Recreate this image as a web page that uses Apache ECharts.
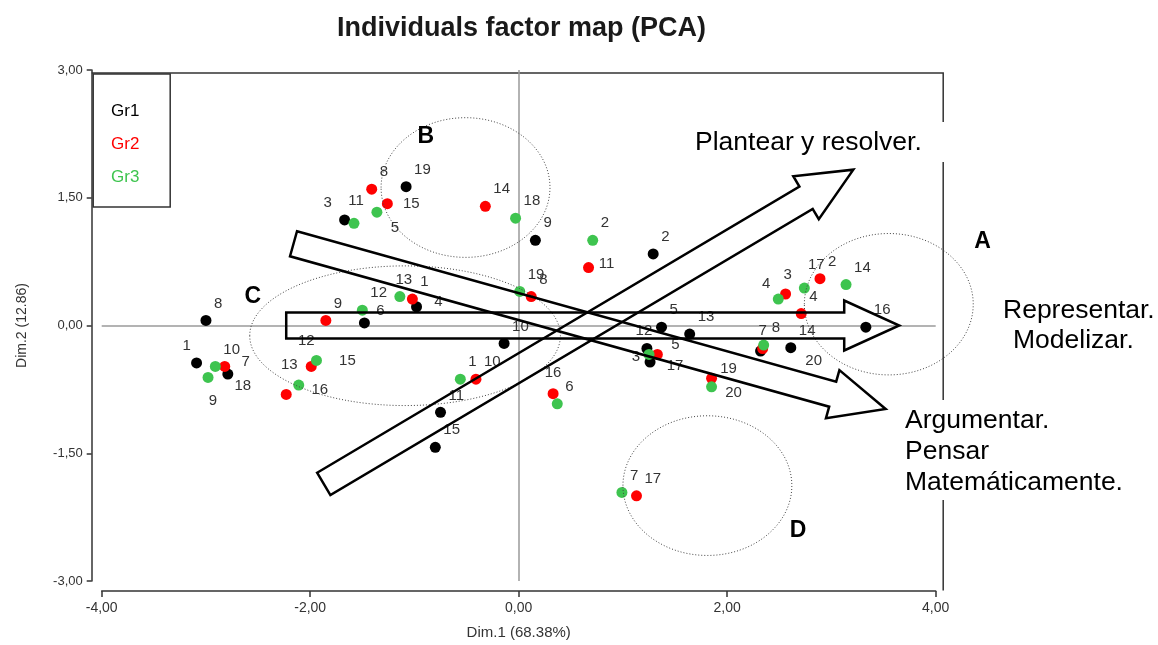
<!DOCTYPE html>
<html>
<head>
<meta charset="utf-8">
<title>Individuals factor map (PCA)</title>
<script src="https://cdn.jsdelivr.net/npm/echarts@6/dist/echarts.min.js"></script>
<style>
html, body { margin: 0; padding: 0; background: #fff; }
#chart { width: 1158px; height: 645px; }
</style>
</head>
<body>
<div id="chart"></div>
<script>
// ejes
const xMin = -4, xMax = 4, xStep = 2
const yMin = -3, yMax = 3, yStep = 1.5

// individuos: [Dim.1, Dim.2, etiqueta]
const gr1 = [
  [-3.09, -0.44, '1'], [1.29, 0.84, '2'], [-1.67, 1.24, '3'], [-0.98, 0.22, '4'],
  [1.37, -0.02, '5'], [-1.48, 0.03, '6'], [2.32, -0.30, '7'], [-3.00, 0.06, '8'],
  [0.16, 1.00, '9'], [-0.14, -0.21, '10'], [-0.75, -1.02, '11'], [1.23, -0.27, '12'],
  [1.64, -0.10, '13'], [2.61, -0.26, '14'], [-0.80, -1.43, '15'], [3.33, -0.02, '16'],
  [1.26, -0.43, '17'], [-2.79, -0.57, '18'], [-1.08, 1.63, '19']
]
const gr2 = [
  [-1.02, 0.31, '1'], [2.89, 0.55, '2'], [2.56, 0.37, '3'], [2.71, 0.14, '4'],
  [1.33, -0.34, '5'], [-2.82, -0.48, '7'], [-1.41, 1.60, '8'], [0.12, 0.34, '8'],
  [-1.85, 0.06, '9'], [-0.41, -0.63, '10'], [0.67, 0.68, '11'], [-1.99, -0.48, '12'],
  [-2.23, -0.81, '13'], [-0.32, 1.40, '14'], [-1.26, 1.43, '15'], [0.33, -0.80, '16'],
  [1.13, -2.00, '17'], [1.85, -0.62, '19'], [2.34, -0.27, '20']
]
const gr3 = [
  [-0.56, -0.63, '1'], [0.71, 1.00, '2'], [1.25, -0.34, '3'], [2.49, 0.31, '4'],
  [-1.36, 1.33, '5'], [0.37, -0.92, '6'], [0.99, -1.96, '7'], [2.35, -0.23, '8'],
  [-2.98, -0.61, '9'], [-2.91, -0.48, '10'], [-1.58, 1.20, '11'], [-1.50, 0.18, '12'],
  [-1.14, 0.34, '13'], [3.14, 0.48, '14'], [-1.94, -0.41, '15'], [-2.11, -0.70, '16'],
  [2.74, 0.44, '17'], [-0.03, 1.26, '18'], [0.01, 0.40, '19'], [1.85, -0.72, '20']
]

// anotaciones (coordenadas del gráfico)
const arrows = [
  { from: [-2.23, 0.00], to: [3.65, 0.00] },
  { from: [-1.87, -1.86], to: [3.21, 1.83] },
  { from: [-2.16, 0.96], to: [3.52, -0.98] }
]
const zones = [
  { name: 'A', c: [3.55, 0.25], r: [0.81, 0.83], at: [4.45, 0.99] },
  { name: 'B', c: [-0.51, 1.62], r: [0.81, 0.82], at: [-0.89, 2.22] },
  { name: 'C', c: [-1.09, -0.12], r: [1.49, 0.82], at: [-2.55, 0.34] },
  { name: 'D', c: [1.81, -1.88], r: [0.81, 0.82], at: [2.68, -2.41] }
]

const groups = ['Gr1', 'Gr2', 'Gr3']
const colors = ['#000000', '#ff0000', '#3ec44f']
const FONT = 'Liberation Sans, Arial, sans-serif'

// etiquetas que no van arriba a la derecha (desplazamiento del centro, px)
const nudge = {
  'Gr1-1': [-10, -17], 'Gr1-3': [-17, -17], 'Gr1-4': [22, -5], 'Gr1-6': [16, -12],
  'Gr1-7': [2, -20], 'Gr1-12': [-3, -18], 'Gr1-17': [25, 4], 'Gr1-18': [15, 12],
  'Gr2-3': [2, -19], 'Gr2-5': [18, -10], 'Gr2-7': [21, -5], 'Gr2-11': [18, -4],
  'Gr2-12': [-5, -26], 'Gr2-13': [3, -30], 'Gr2-15': [24, 0], 'Gr2-16': [0, -21],
  'Gr2-19': [17, -9], 'Gr2-20': [51, 12],
  'Gr3-3': [-13, 2], 'Gr3-4': [-12, -15], 'Gr3-5': [18, 16], 'Gr3-9': [5, 23],
  'Gr3-11': [2, -22], 'Gr3-13': [4, -17], 'Gr3-15': [31, 0], 'Gr3-16': [21, 5],
  'Gr3-17': [12, -23], 'Gr3-20': [22, 6]
}

const SYM = 11
const half = SYM / 2

function toItems(group, list) {
  return list.map(p => {
    const key = group + '-' + p[2]
    let label
    if (nudge[key]) {
      label = { position: [half + nudge[key][0], half + nudge[key][1]], align: 'center', verticalAlign: 'middle' }
    } else {
      label = { position: [half + 8, half - 17], align: 'left', verticalAlign: 'middle' }
    }
    return { value: [p[0], p[1]], name: p[2], label: label }
  })
}

function fmt(v) {
  return v.toFixed(2).replace('.', ',')
}

const chart = echarts.init(document.getElementById('chart'))

const axisLine = { show: true, onZero: false, lineStyle: { color: '#333', width: 1.5 } }

const series = [gr1, gr2, gr3].map((list, i) => {
  const s = {
    name: groups[i],
    type: 'scatter',
    symbol: 'circle',
    symbolSize: SYM,
    itemStyle: { color: colors[i], opacity: 1 },
    label: {
      show: true,
      formatter: '{b}',
      color: '#333',
      fontSize: 15,
      fontFamily: FONT
    },
    emphasis: { disabled: true },
    data: toItems(groups[i], list),
    z: 3 + i
  }
  if (i === 0) {
    s.markLine = {
      silent: true,
      symbol: ['none', 'none'],
      label: { show: false },
      lineStyle: { color: '#9a9a9a', type: 'solid', width: 1.5 },
      data: [{ xAxis: 0 }, { yAxis: 0 }],
      z: 1
    }
  }
  return s
})

chart.setOption({
  animation: false,
  backgroundColor: '#fff',
  title: {
    text: 'Individuals factor map (PCA)',
    left: 332,
    top: 10,
    textStyle: { fontSize: 27, fontWeight: 'bold', color: '#1a1a1a', fontFamily: FONT }
  },
  legend: {
    orient: 'vertical',
    left: 101,
    top: 98,
    icon: 'none',
    itemWidth: 0,
    itemHeight: 17,
    itemGap: 16,
    selectedMode: false,
    data: groups.map((g, i) => ({ name: g, textStyle: { color: colors[i] } })),
    textStyle: { fontSize: 17, fontFamily: FONT }
  },
  grid: { left: 101.7, right: 222.3, top: 70, bottom: 62.7 },
  xAxis: {
    type: 'value',
    min: xMin, max: xMax, interval: xStep,
    position: 'bottom',
    offset: 10,
    axisLine: axisLine,
    axisTick: { show: true, length: 6, lineStyle: { color: '#333', width: 1.5 } },
    axisLabel: { formatter: fmt, color: '#333', fontSize: 14, fontFamily: FONT, margin: 10 },
    splitLine: { show: false },
    name: 'Dim.1 (68.38%)',
    nameLocation: 'middle',
    nameGap: 34,
    nameTextStyle: { fontSize: 15, color: '#333', fontFamily: FONT }
  },
  yAxis: {
    type: 'value',
    min: yMin, max: yMax, interval: yStep,
    position: 'left',
    offset: 10,
    axisLine: axisLine,
    axisTick: { show: true, length: 5, lineStyle: { color: '#333', width: 1.5 } },
    axisLabel: { formatter: fmt, color: '#333', fontSize: 13, fontFamily: FONT, margin: 9 },
    splitLine: { show: false },
    name: 'Dim.2 (12.86)',
    nameLocation: 'middle',
    nameGap: 63,
    nameTextStyle: { fontSize: 14, color: '#333', fontFamily: FONT }
  },
  series: series
})

// flechas de bloque, en píxeles a partir de los extremos en datos
function arrowPoints(p0, p1) {
  const dx = p1[0] - p0[0], dy = p1[1] - p0[1]
  const len = Math.hypot(dx, dy)
  const ux = dx / len, uy = dy / len
  const nx = -uy, ny = ux
  const w = 13, hw = 25, hl = 55
  const b = len - hl
  const pt = (s, t) => [p0[0] + ux * s + nx * t, p0[1] + uy * s + ny * t]
  return [pt(0, -w), pt(b, -w), pt(b, -hw), pt(len, 0), pt(b, hw), pt(b, w), pt(0, w)]
}

function drawNotes() {
  const toPx = v => chart.convertToPixel({ gridIndex: 0 }, v)
  const tl = toPx([xMin, yMax])
  const br = toPx([xMax, yMin])
  const unit = [toPx([1, 0])[0] - toPx([0, 0])[0], toPx([0, 0])[1] - toPx([0, 1])[1]]
  const items = []

  // marco superior y derecho
  items.push({
    type: 'polyline',
    shape: { points: [[tl[0] - 10, tl[1] + 3], [br[0] + 7.5, tl[1] + 3], [br[0] + 7.5, br[1] + 9.5]] },
    style: { stroke: '#333', lineWidth: 1.5, fill: 'none' }
  })
  // caja de la leyenda
  items.push({
    type: 'rect',
    shape: { x: tl[0] - 8.5, y: tl[1] + 4, width: 77, height: 133 },
    style: { stroke: '#333', lineWidth: 1.5, fill: 'none' }
  })

  zones.forEach(z => {
    const c = toPx(z.c)
    items.push({
      type: 'ellipse',
      shape: { cx: c[0], cy: c[1], rx: z.r[0] * unit[0], ry: z.r[1] * unit[1] },
      style: { fill: 'none', stroke: '#444', lineWidth: 1, lineDash: [1, 2] },
      z: 50
    })
    const a = toPx(z.at)
    items.push({
      type: 'text',
      x: a[0], y: a[1],
      style: { text: z.name, font: 'bold 23px ' + FONT, fill: '#000', align: 'center', verticalAlign: 'middle' },
      z: 60
    })
  })

  arrows.forEach(a => {
    items.push({
      type: 'polygon',
      shape: { points: arrowPoints(toPx(a.from), toPx(a.to)) },
      style: { fill: 'none', stroke: '#000', lineWidth: 2.5, lineJoin: 'miter' },
      z: 55
    })
  })

  // cuadros de texto a la derecha (fondo blanco)
  const boxes = [
    { x: 685, y: 122, w: 265, h: 40, lines: [['Plantear y resolver.', 695, 143]] },
    { x: 995, y: 290, w: 163, h: 68, lines: [['Representar.', 1003, 311], ['Modelizar.', 1013, 341]] },
    { x: 898, y: 400, w: 240, h: 100, lines: [['Argumentar.', 905, 421], ['Pensar', 905, 452], ['Matemáticamente.', 905, 483]] }
  ]
  boxes.forEach(b => {
    items.push({ type: 'rect', shape: { x: b.x, y: b.y, width: b.w, height: b.h }, style: { fill: '#fff' }, z: 70 })
    b.lines.forEach(l => {
      items.push({
        type: 'text', x: l[1], y: l[2],
        style: { text: l[0], font: '26.5px ' + FONT, fill: '#000', verticalAlign: 'middle' },
        z: 71
      })
    })
  })

  chart.setOption({ graphic: { elements: items } })
}

drawNotes()
</script>
</body>
</html>
